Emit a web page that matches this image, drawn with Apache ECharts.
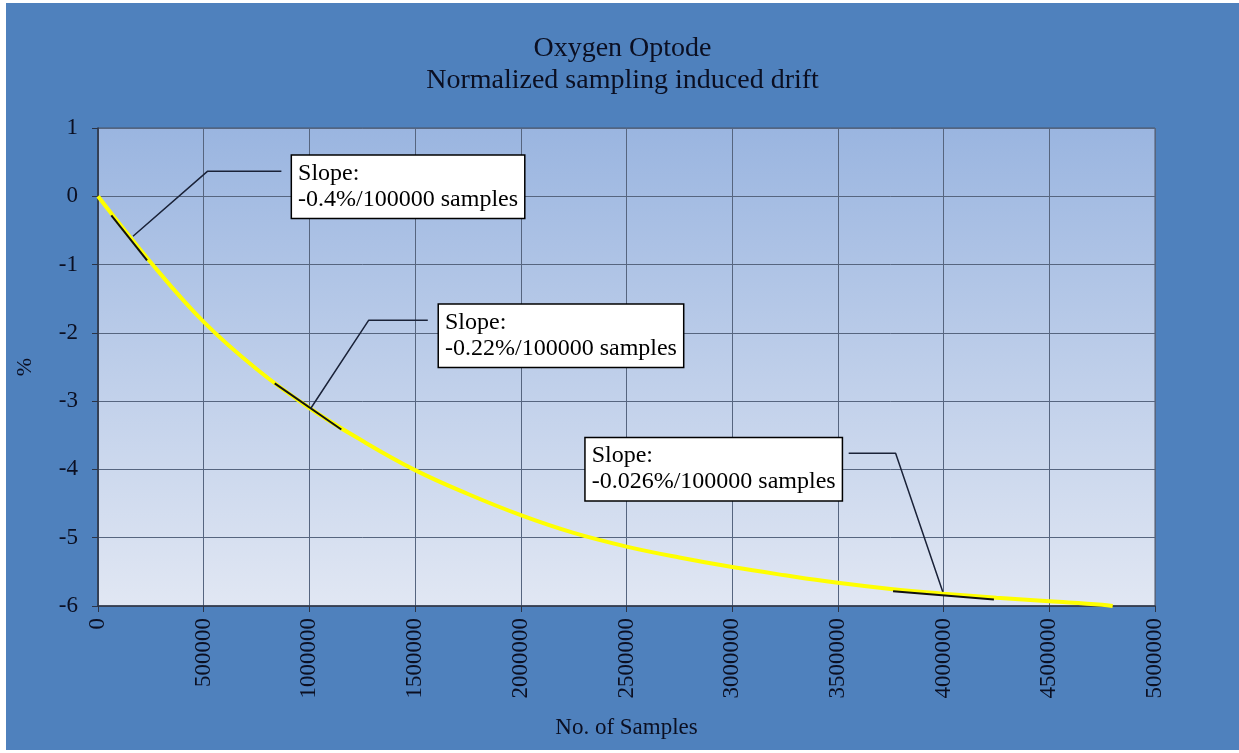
<!DOCTYPE html>
<html lang="en">
<head>
    <meta charset="utf-8">
    <title>Oxygen Optode drift</title>
    <script src="https://cdn.jsdelivr.net/npm/echarts@6/dist/echarts.min.js"></script>
    <style>
        html, body { margin: 0; padding: 0; background: #fff; }
        #chart { position: absolute; left: 6px; top: 3px; width: 1233px; height: 747px; }
    </style>
</head>
<body>
<div id="chart"></div>

<script>
    // curve
    var samples = [0, 250000, 500000, 750000, 1000000, 1250000, 1500000, 1750000, 2000000, 2250000,
        2500000, 2750000, 3000000, 3250000, 3500000, 3750000, 4000000, 4250000, 4500000, 4750000, 4800000];
    var drift = [0, -0.97, -1.84, -2.53, -3.10, -3.58, -4.01, -4.36, -4.67, -4.93,
        -5.13, -5.29, -5.43, -5.55, -5.66, -5.75, -5.82, -5.88, -5.93, -5.98, -6.0];

    // tangent pieces (x, %)
    var tangent1 = [[63000, -0.28], [232000, -0.94]];
    var tangent2 = [[836000, -2.74], [1151000, -3.415]];
    var tangent3 = [[3761000, -5.785], [4238000, -5.906]];

    // callouts
    var calloutText = [
        'Slope:\n-0.4%/100000 samples',
        'Slope:\n-0.22%/100000 samples',
        'Slope:\n-0.026%/100000 samples'
    ];
    var calloutAt = [[918000, 0.595], [1613000, -1.588], [2307000, -3.542]];
    var leader1 = [[867500, 0.365], [517500, 0.365], [165600, -0.585]];
    var leader2 = [[1560000, -1.817], [1280000, -1.817], [1006000, -3.108]];
    var leader3 = [[3551000, -3.762], [3773000, -3.762], [3996000, -5.79]];

    var xTicks = { min: 0, max: 5000000, step: 500000 };
    var yTicks = { min: -6, max: 1, step: 1 };

    var serif = 'Liberation Serif, Times New Roman, serif';
    var ink = '#0b0f22';

    var chart = echarts.init(document.getElementById('chart'));

    function blackLine(pts, width, color) {
        return {
            type: 'line',
            data: pts,
            symbol: 'none',
            silent: true,
            z: 5,
            lineStyle: { color: color, width: width }
        };
    }

    chart.setOption({
        backgroundColor: '#4f81bd',
        animation: false,
        title: {
            text: 'Oxygen Optode\nNormalized sampling induced drift',
            left: 'center',
            top: 25,
            textStyle: {
                fontFamily: serif,
                fontWeight: 'normal',
                fontSize: 28,
                lineHeight: 32,
                color: ink
            }
        },
        grid: {
            left: 91,
            top: 125,
            right: 84,
            bottom: 144,
            show: true,
            borderColor: '#4a5568',
            borderWidth: 1,
            backgroundColor: {
                type: 'linear', x: 0, y: 0, x2: 0, y2: 1,
                colorStops: [
                    { offset: 0, color: '#9ab5e0' },
                    { offset: 1, color: '#e1e7f3' }
                ]
            }
        },
        xAxis: {
            type: 'value',
            min: xTicks.min,
            max: xTicks.max,
            interval: xTicks.step,
            name: 'No. of Samples',
            nameLocation: 'middle',
            nameGap: 110,
            nameTextStyle: { fontFamily: serif, fontSize: 23, color: ink },
            axisLine: { show: true, onZero: false, lineStyle: { color: '#2b3345', width: 1.5 } },
            axisTick: { show: true, length: 6, lineStyle: { color: '#2b3345' } },
            axisLabel: {
                rotate: 90,
                margin: 12,
                fontFamily: serif,
                fontSize: 23,
                color: ink,
                formatter: function (v) { return String(v); }
            },
            splitLine: { show: true, lineStyle: { color: '#56657f', width: 1 } }
        },
        yAxis: {
            type: 'value',
            min: yTicks.min,
            max: yTicks.max,
            interval: yTicks.step,
            name: '%',
            nameLocation: 'middle',
            nameRotate: 90,
            nameGap: 62,
            nameTextStyle: { fontFamily: serif, fontSize: 22, color: ink },
            axisLine: { show: true, onZero: false, lineStyle: { color: '#2b3345', width: 1.5 } },
            axisTick: { show: true, length: 6, lineStyle: { color: '#2b3345' } },
            axisLabel: { margin: 20, fontFamily: serif, fontSize: 23, color: ink },
            splitLine: { show: true, lineStyle: { color: '#56657f', width: 1 } }
        },
        series: [
            {
                type: 'line',
                data: samples.map(function (s, i) { return [s, drift[i]]; }),
                smooth: 0.4,
                symbol: 'none',
                z: 3,
                lineStyle: { color: '#ffff00', width: 4 }
            },
            blackLine(tangent1, 2, '#111'),
            blackLine(tangent2, 2, '#111'),
            blackLine(tangent3, 2, '#111'),
            blackLine(leader1, 1.5, '#1a2238'),
            blackLine(leader2, 1.5, '#1a2238'),
            blackLine(leader3, 1.5, '#1a2238'),
            {
                type: 'scatter',
                symbolSize: 0,
                silent: true,
                z: 10,
                itemStyle: { opacity: 1 },
                data: calloutAt,
                label: {
                    show: true,
                    position: [0, 0],
                    align: 'left',
                    verticalAlign: 'top',
                    formatter: function (p) { return calloutText[p.dataIndex]; },
                    fontFamily: serif,
                    fontSize: 24,
                    lineHeight: 26,
                    color: '#000',
                    opacity: 1,
                    backgroundColor: '#ffffff',
                    borderColor: '#000',
                    borderWidth: 1.5,
                    padding: [5, 6, 5, 6]
                }
            }
        ]
    });
</script>
</body>
</html>
